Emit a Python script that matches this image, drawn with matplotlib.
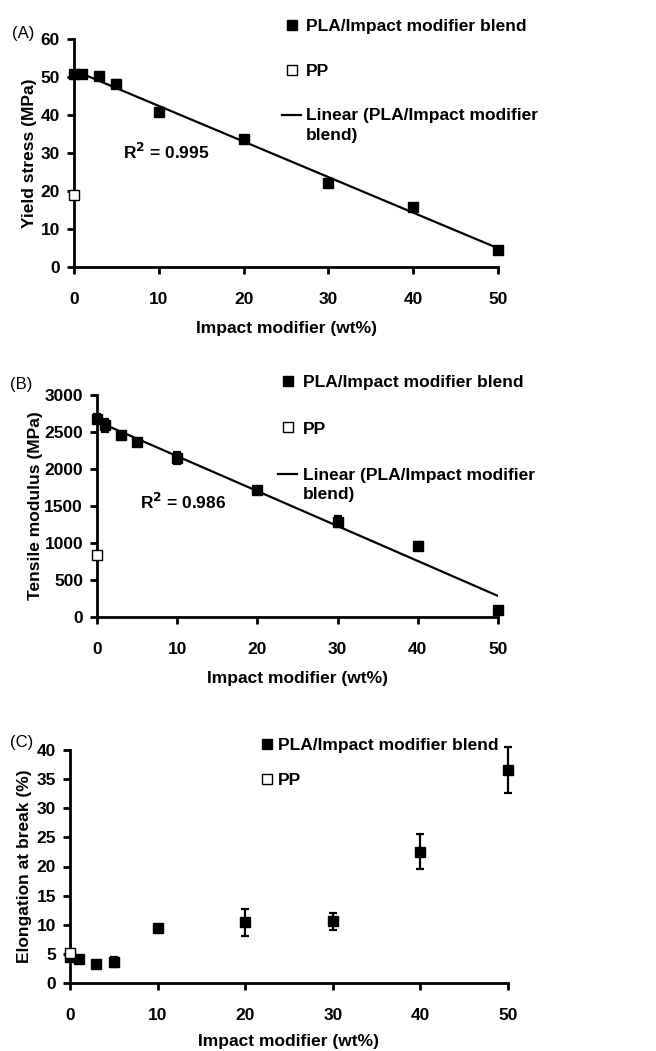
import numpy as np
import matplotlib
matplotlib.use("Agg")
import matplotlib.pyplot as plt
from matplotlib.lines import Line2D
from matplotlib.legend_handler import HandlerLine2D

plt.rcParams['font.family'] = ['Liberation Sans', 'DejaVu Sans']
plt.rcParams['font.weight'] = 'bold'
plt.rcParams['axes.labelweight'] = 'bold'

# impact modifier content (wt%)
wt = [0, 1, 3, 5, 10, 20, 30, 40, 50]

# (A) yield stress, MPa
yield_stress = [50.8, 50.7, 50.3, 48.2, 40.8, 33.6, 22.2, 15.8, 4.5]
yield_err = [0.8, 0.5, 0.8, 1.0, 1.0, 0.8, 1.0, 0.9, 0.7]
pp_yield = 19.0

# (B) tensile modulus, MPa
modulus = [2680, 2590, 2460, 2360, 2150, 1720, 1290, 960, 90]
modulus_err = [60, 90, 40, 50, 80, 40, 70, 50, 50]
pp_modulus = 840

# (C) elongation at break, %
elong = [4.5, 4.1, 3.3, 3.6, 9.4, 10.4, 10.6, 22.5, 36.6]
elong_err = [0.4, 0.3, 0.4, 0.8, 0.5, 2.3, 1.5, 3.0, 4.0]
pp_elong = 5.1

FS = 12.5
W, H = 656, 1051
fig = plt.figure(figsize=(W / 100, H / 100), dpi=100)


class TopLineHandler(HandlerLine2D):
    # put the trendline handle level with the first line of a 2-line label
    def create_artists(self, legend, orig_handle, xdescent, ydescent,
                       width, height, fontsize, trans):
        arts = super().create_artists(legend, orig_handle, xdescent, ydescent,
                                      width, height, fontsize, trans)
        for a in arts:
            a.set_ydata(np.asarray(a.get_ydata()) + 0.62 * fontsize)
        return arts


def px_axes(l, r, t, b):
    return fig.add_axes([l / W, 1 - b / H, (r - l) / W, (b - t) / H])


def style(ax, xpad=10):
    for s in ['top', 'right']:
        ax.spines[s].set_visible(False)
    for s in ['left', 'bottom']:
        ax.spines[s].set_linewidth(2)
    ax.tick_params(axis='both', direction='out', length=5, width=2, labelsize=FS)
    ax.tick_params(axis='x', pad=13)
    ax.tick_params(axis='y', pad=5)
    ax.set_xlim(0, 50)
    ax.set_xticks([0, 10, 20, 30, 40, 50])
    ax.set_xlabel('Impact modifier (wt%)', fontsize=FS, labelpad=xpad)
    for lab in ax.get_xticklabels() + ax.get_yticklabels():
        lab.set_fontweight('bold')


def draw(ax, y, err, pp):
    ax.errorbar(wt, y, yerr=err, fmt='s', color='black', ms=7.5, capsize=3,
                elinewidth=1.6, capthick=1.6, clip_on=False, zorder=3)
    ax.plot([0], [pp], 's', ms=7, mfc='white', mec='black', mew=1,
            clip_on=False, zorder=4)


sq_fill = Line2D([], [], ls='none', marker='s', ms=7, color='black')
sq_open = Line2D([], [], ls='none', marker='s', ms=7, mfc='white', mec='black', mew=1)
fit_line = Line2D([], [], color='black', lw=1.6)
leg_kw = dict(loc='upper left', bbox_transform=fig.transFigure, frameon=False,
              fontsize=FS, borderpad=0, borderaxespad=0,
              handler_map={fit_line: TopLineHandler()})
fit_labels = ['PLA/Impact modifier blend', 'PP', 'Linear (PLA/Impact modifier\nblend)']

# ---------- (A)
axA = px_axes(74, 498, 39, 267)
draw(axA, yield_stress, yield_err, pp_yield)
k, b0 = np.polyfit(wt, yield_stress, 1)
xs = np.array([0.5, 50])
axA.plot(xs, k * xs + b0, color='black', lw=1.6, zorder=2)
axA.set_ylim(0, 60)
axA.set_yticks(range(0, 61, 10))
axA.set_ylabel('Yield stress (MPa)', fontsize=FS, labelpad=3)
axA.text(5.8, 30.3, 'R$^2$ = 0.995', fontsize=FS, va='center', ha='left')
style(axA)
legA = axA.legend([sq_fill, sq_open, fit_line], fit_labels,
                  bbox_to_anchor=(282 / W, 1 - 19 / H), handlelength=1.1,
                  handletextpad=0.3, labelspacing=1.7, **leg_kw)
legA.get_texts()[2].set_linespacing(1.35)
fig.text(12 / W, 1 - 33 / H, '(A)', fontsize=12, fontweight='normal', va='center')

# ---------- (B)
axB = px_axes(97, 498, 395, 617)
draw(axB, modulus, modulus_err, pp_modulus)
k, b0 = np.polyfit(wt, modulus, 1)
axB.plot(xs, k * xs + b0, color='black', lw=1.6, zorder=2)
axB.set_ylim(0, 3000)
axB.set_yticks(range(0, 3001, 500))
axB.set_ylabel('Tensile modulus (MPa)', fontsize=FS, labelpad=1)
axB.text(5.4, 1554, 'R$^2$ = 0.986', fontsize=FS, va='center', ha='left')
style(axB)
legB = axB.legend([sq_fill, sq_open, fit_line], fit_labels,
                  bbox_to_anchor=(278 / W, 1 - 375 / H), handlelength=1.1,
                  handletextpad=0.35, labelspacing=1.8, **leg_kw)
legB.get_texts()[2].set_linespacing(1.35)
fig.text(10 / W, 1 - 385 / H, '(B)', fontsize=12, fontweight='normal', va='center')

# ---------- (C)
axC = px_axes(70, 508, 750, 983)
draw(axC, elong, elong_err, pp_elong)
axC.set_ylim(0, 40)
axC.set_yticks(range(0, 41, 5))
axC.set_ylabel('Elongation at break (%)', fontsize=FS, labelpad=3)
style(axC, xpad=8)
axC.legend([sq_fill, sq_open], ['PLA/Impact modifier blend', 'PP'],
           bbox_to_anchor=(262 / W, 1 - 738 / H), handlelength=0.6,
           handletextpad=0.3, labelspacing=1.12, **leg_kw)
fig.text(10 / W, 1 - 742 / H, '(C)', fontsize=12, fontweight='normal', va='center')

fig.savefig('out.png', dpi=100, facecolor='white')
